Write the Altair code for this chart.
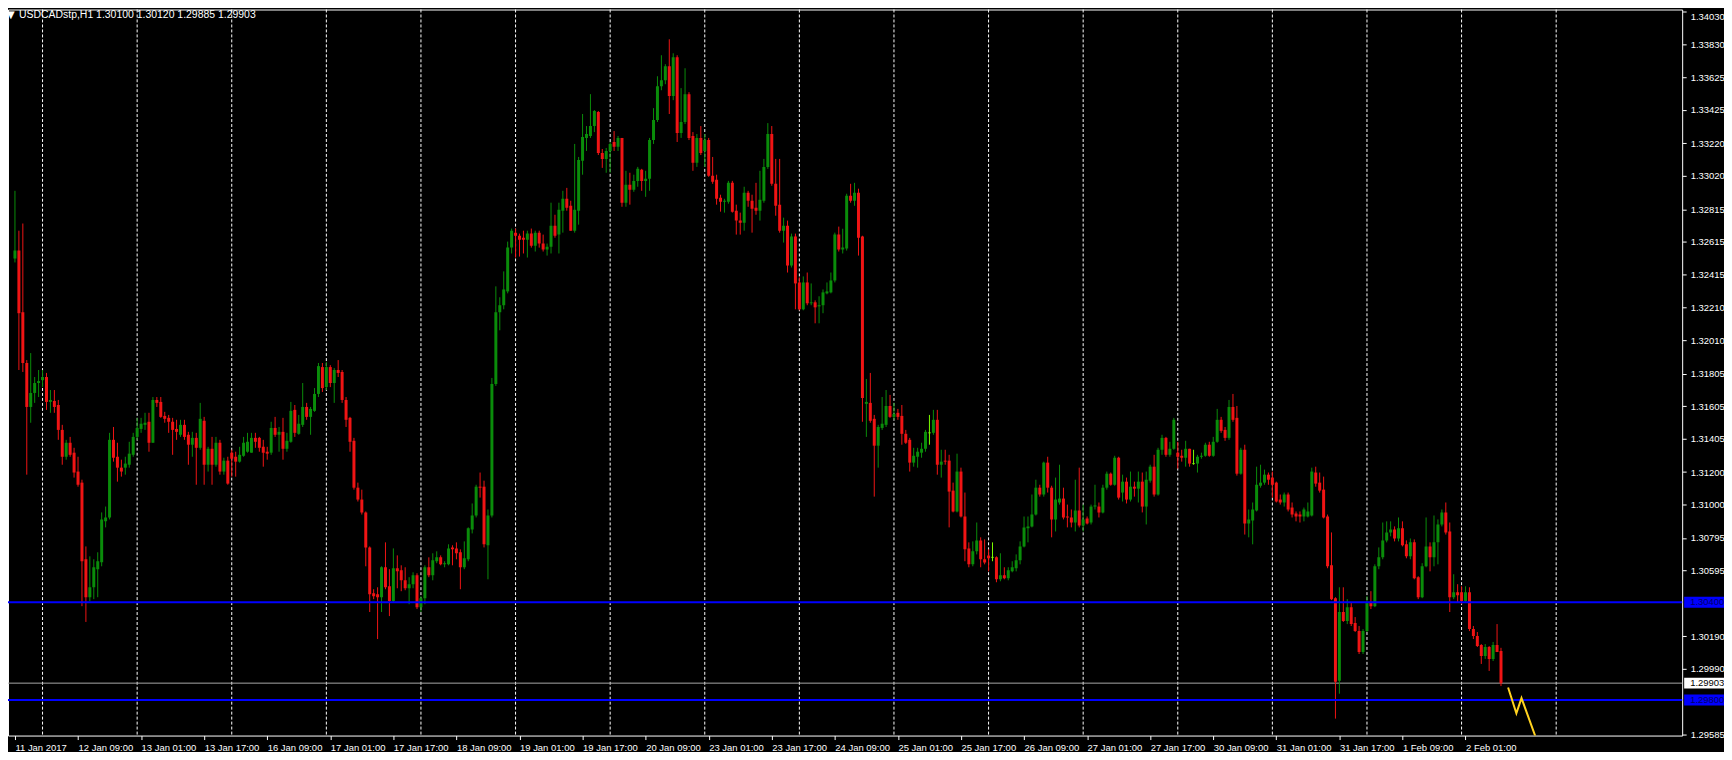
import altair as alt
import pandas as pd

# USDCAD H1 candles, prices in points (1 point = 0.00001)
open_pts = [
    132512, 132561, 132182, 131870, 131600, 131686, 131747, 131765, 131784, 131631,
    131637, 131612, 131459, 131294, 131380, 131319, 131203, 131135, 130664, 130431,
    130492, 130603, 130646, 130897, 130921, 131398, 131294, 131227, 131227, 131245,
    131306, 131416, 131465, 131490, 131509, 131380, 131643, 131631, 131545, 131533,
    131509, 131465, 131429, 131490, 131429, 131368, 131410, 131349, 131515, 131245,
    131343, 131245, 131380, 131203, 131270, 131319, 131294, 131264, 131300, 131325,
    131319, 131410, 131410, 131355, 131325, 131319, 131471, 131429, 131447, 131343,
    131386, 131582, 131435, 131490, 131600, 131539, 131576, 131680, 131845, 131722,
    131845, 131747, 131827, 131815, 131643, 131533, 131392, 131104, 131031, 130952,
    130737, 130456, 130449, 130431, 130615, 130498, 130407, 130609, 130597, 130535,
    130486, 130511, 130566, 130370, 130425, 130615, 130566, 130652, 130676, 130633,
    130633, 130737, 130731, 130707, 130615, 130664, 130847, 130933, 131110, 131110,
    130750, 130933, 131741, 132182, 132225, 132310, 132579, 132671, 132652, 132640,
    132628, 132665, 132591, 132671, 132604, 132567, 132585, 132714, 132659, 132806,
    132879, 132836, 132683, 132806, 133112, 133253, 133265, 133326, 133412, 133161,
    133124, 133173, 133228, 133198, 133253, 132855, 132965, 132934, 132989, 133057,
    132989, 133002, 133240, 133363, 133571, 133608, 133694, 133510, 133749, 133283,
    133351, 133522, 133265, 133100, 133253, 133173, 133240, 133020, 132996, 132885,
    132861, 132861, 132977, 132806, 132745, 132732, 132916, 132867, 132824, 132806,
    132867, 133075, 133277, 132971, 132843, 132683, 132714, 132469, 132647, 132365,
    132200, 132365, 132237, 132243, 132218, 132225, 132298, 132304, 132377, 132659,
    132567, 132573, 132898, 132867, 132916, 132647, 131619, 131625, 131527, 131362,
    131471, 131490, 131606, 131539, 131564, 131545, 131435, 131398, 131258, 131294,
    131319, 131343, 131441, 131441, 131521, 131245, 131270, 131270, 131086, 130958,
    131203, 130927, 130731, 130633, 130713, 130780, 130664, 130688, 130676, 130676,
    130541, 130566, 130547, 130590, 130609, 130658, 130743, 130854, 130866, 130939,
    131104, 131062, 131258, 131104, 130909, 131013, 131037, 130927, 130921, 130890,
    130964, 130872, 130915, 130890, 130988, 130988, 130952, 131104, 131190, 131122,
    131288, 131074, 131141, 131031, 131110, 131098, 131141, 130988, 131147, 131233,
    131062, 131337, 131410, 131306, 131343, 131319, 131300, 131288, 131343, 131252,
    131252, 131294, 131300, 131368, 131300, 131386, 131521, 131459, 131410, 131600,
    131533, 131190, 131337, 130884, 130903, 130964, 131116, 131135, 131184, 131166,
    131135, 131031, 131013, 131062, 130982, 130946, 130939, 130927, 130927, 130933,
    131197, 131135, 131092, 130927, 130627, 130425, 129917, 130340, 130285, 130370,
    130272, 130223, 130094, 130223, 130401, 130376, 130621, 130676, 130780, 130829,
    130847, 130792, 130854, 130756, 130682, 130768, 130554, 130431, 130621, 130743,
    130676, 130768, 130878, 130952, 130835, 130431, 130462, 130462, 130407, 130462,
    130235, 130193, 130137, 130070, 130125, 130052, 130137, 130100,
]
high_pts = [
    132928, 132683, 132727, 131888, 131931, 131784, 131827, 131827, 131809, 131704,
    131704, 131643, 131490, 131398, 131416, 131349, 131294, 131153, 130743, 130682,
    130664, 130707, 130952, 130988, 131441, 131477, 131380, 131276, 131294, 131386,
    131441, 131533, 131533, 131564, 131564, 131661, 131661, 131661, 131570, 131551,
    131533, 131521, 131521, 131521, 131447, 131447, 131441, 131625, 131539, 131355,
    131416, 131416, 131398, 131288, 131294, 131337, 131325, 131355, 131416, 131441,
    131441, 131441, 131416, 131398, 131355, 131509, 131539, 131477, 131533, 131441,
    131631, 131612, 131551, 131747, 131625, 131600, 131716, 131870, 131870, 131876,
    131857, 131839, 131888, 131827, 131661, 131539, 131410, 131135, 131092, 130958,
    130743, 130480, 130492, 130621, 130768, 130603, 130731, 130688, 130627, 130615,
    130554, 130584, 130578, 130437, 130627, 130676, 130701, 130713, 130688, 130652,
    130756, 130750, 130768, 130725, 130774, 130860, 131007, 131122, 131197, 131147,
    130970, 131778, 132341, 132274, 132433, 132616, 132696, 132696, 132665, 132683,
    132683, 132696, 132683, 132683, 132659, 132604, 132855, 132781, 132855, 132928,
    132946, 132867, 133216, 133136, 133400, 133326, 133522, 133424, 133418, 133185,
    133191, 133228, 133295, 133265, 133253, 133051, 133039, 133027, 133075, 133063,
    133051, 133253, 133436, 133632, 133761, 133706, 133859, 133773, 133761, 133559,
    133681, 133534, 133289, 133277, 133326, 133277, 133253, 133136, 133027, 132904,
    132879, 132989, 132989, 132843, 132794, 132953, 132928, 132904, 132977, 133051,
    133124, 133344, 133326, 133124, 133124, 132763, 132745, 132665, 132665, 132396,
    132402, 132426, 132359, 132255, 132280, 132322, 132365, 132426, 132671, 132708,
    132695, 132910, 132971, 132977, 132941, 132652, 131772, 131809, 131551, 131490,
    131661, 131704, 131674, 131625, 131588, 131612, 131459, 131410, 131349, 131349,
    131380, 131459, 131551, 131582, 131582, 131337, 131337, 131306, 131135, 131313,
    131227, 131074, 130768, 130774, 130890, 130799, 130786, 130725, 130768, 130682,
    130701, 130615, 130615, 130652, 130694, 130774, 130927, 130927, 131062, 131153,
    131122, 131264, 131294, 131116, 131166, 131245, 131104, 131000, 130970, 131153,
    131227, 131000, 130927, 131000, 131122, 131013, 131122, 131203, 131197, 131300,
    131294, 131184, 131166, 131203, 131141, 131203, 131197, 131203, 131245, 131306,
    131349, 131429, 131416, 131386, 131533, 131386, 131337, 131392, 131343, 131337,
    131306, 131319, 131380, 131386, 131416, 131588, 131539, 131477, 131643, 131680,
    131606, 131349, 131368, 130970, 131013, 131233, 131245, 131215, 131197, 131203,
    131141, 131062, 131074, 131074, 131013, 130958, 130958, 130982, 131013, 131227,
    131233, 131197, 131172, 130939, 130829, 130431, 130492, 130492, 130419, 130401,
    130309, 130254, 130235, 130437, 130468, 130633, 130737, 130890, 130897, 130897,
    130866, 130921, 130897, 130780, 130792, 130786, 130560, 130640, 130921, 130768,
    130933, 130909, 130970, 131013, 130890, 130572, 130511, 130498, 130498, 130492,
    130254, 130217, 130143, 130143, 130131, 130156, 130266, 130120,
]
low_pts = [
    132488, 131827, 131815, 131184, 131503, 131625, 131661, 131722, 131582, 131564,
    131564, 131398, 131245, 131276, 131294, 131166, 131110, 130376, 130279, 130407,
    130419, 130431, 130621, 130860, 130909, 131264, 131141, 131172, 131184, 131227,
    131294, 131398, 131441, 131459, 131325, 131380, 131600, 131533, 131503, 131441,
    131306, 131398, 131416, 131398, 131245, 131294, 131122, 131337, 131122, 131203,
    131122, 131233, 131184, 131184, 131122, 131172, 131172, 131258, 131294, 131319,
    131319, 131349, 131325, 131233, 131276, 131306, 131416, 131325, 131276, 131325,
    131380, 131416, 131429, 131477, 131521, 131429, 131570, 131661, 131692, 131704,
    131722, 131625, 131784, 131625, 131477, 131325, 131092, 131019, 130939, 130621,
    130340, 130419, 130174, 130340, 130480, 130315, 130401, 130486, 130468, 130474,
    130388, 130486, 130358, 130340, 130388, 130554, 130535, 130640, 130627, 130615,
    130627, 130627, 130664, 130480, 130603, 130652, 130823, 130921, 131043, 130737,
    130541, 130921, 131729, 132071, 132200, 132298, 132543, 132518, 132524, 132543,
    132518, 132579, 132555, 132579, 132555, 132530, 132543, 132640, 132543, 132671,
    132806, 132695, 132671, 132720, 133027, 133173, 133253, 133289, 133148, 133069,
    133039, 133039, 133173, 133173, 132830, 132830, 132843, 132922, 132953, 132928,
    132891, 132928, 133216, 133351, 133546, 133583, 133400, 133485, 133228, 133253,
    133338, 133240, 133051, 133075, 133148, 133075, 133014, 132971, 132843, 132800,
    132794, 132849, 132794, 132659, 132659, 132683, 132830, 132671, 132781, 132745,
    132855, 133063, 132959, 132775, 132671, 132610, 132426, 132457, 132200, 132194,
    132194, 132225, 132225, 132114, 132114, 132176, 132292, 132298, 132365, 132555,
    132543, 132561, 132855, 132836, 132530, 131509, 131416, 131503, 131049, 131227,
    131459, 131477, 131533, 131521, 131521, 131368, 131373, 131203, 131233, 131227,
    131288, 131325, 131368, 131429, 131184, 131166, 131245, 130860, 130952, 130952,
    130921, 130652, 130615, 130621, 130694, 130615, 130633, 130590, 130652, 130523,
    130529, 130541, 130535, 130584, 130590, 130633, 130737, 130768, 130860, 130933,
    131049, 131049, 131074, 130799, 130835, 131000, 130909, 130860, 130860, 130835,
    130860, 130835, 130878, 130878, 130970, 130921, 130946, 131092, 131116, 131116,
    131031, 131019, 131007, 131019, 131049, 131013, 130952, 130878, 131135, 131049,
    131055, 131306, 131294, 131294, 131337, 131221, 131264, 131233, 131233, 131245,
    131197, 131282, 131294, 131294, 131294, 131380, 131441, 131392, 131398, 131509,
    131178, 131184, 130816, 130799, 130756, 130958, 131104, 131122, 131122, 131043,
    131013, 131000, 130988, 130958, 130921, 130897, 130890, 130897, 130921, 130927,
    131110, 131074, 130915, 130609, 130413, 129685, 129838, 130279, 130266, 130254,
    130217, 130082, 130082, 130217, 130358, 130370, 130603, 130664, 130768, 130805,
    130774, 130774, 130743, 130670, 130664, 130541, 130419, 130425, 130615, 130590,
    130621, 130633, 130866, 130816, 130340, 130419, 130401, 130388, 130401, 130223,
    130174, 130125, 130021, 130052, 129978, 130039, 130094, 129885,
]
close_pts = [
    132561, 132176, 131870, 131600, 131686, 131747, 131759, 131784, 131631, 131643,
    131600, 131459, 131294, 131380, 131306, 131197, 131122, 130652, 130431, 130492,
    130615, 130652, 130909, 130921, 131398, 131288, 131227, 131203, 131252, 131313,
    131416, 131471, 131497, 131503, 131380, 131643, 131625, 131539, 131527, 131509,
    131459, 131447, 131490, 131416, 131368, 131410, 131349, 131527, 131245, 131343,
    131245, 131380, 131203, 131270, 131129, 131282, 131264, 131306, 131380, 131386,
    131410, 131386, 131349, 131319, 131313, 131471, 131429, 131447, 131343, 131392,
    131576, 131441, 131497, 131600, 131539, 131588, 131680, 131851, 131716, 131845,
    131747, 131827, 131809, 131643, 131521, 131386, 131104, 131031, 130952, 130737,
    130449, 130437, 130431, 130615, 130492, 130407, 130609, 130590, 130535, 130486,
    130511, 130566, 130370, 130425, 130615, 130566, 130658, 130676, 130633, 130640,
    130731, 130725, 130701, 130615, 130670, 130854, 130933, 131110, 131104, 130756,
    130933, 131741, 132182, 132225, 132322, 132579, 132683, 132652, 132628, 132628,
    132665, 132591, 132671, 132604, 132567, 132585, 132714, 132652, 132812, 132879,
    132824, 132683, 132812, 133118, 133259, 133277, 133326, 133418, 133161, 133124,
    133173, 133216, 133198, 133253, 132855, 132965, 132934, 132989, 133063, 132989,
    133002, 133240, 133363, 133571, 133608, 133694, 133510, 133749, 133283, 133351,
    133522, 133253, 133100, 133253, 133161, 133240, 133020, 132983, 132879, 132861,
    132867, 132977, 132800, 132745, 132732, 132916, 132867, 132818, 132806, 132873,
    133075, 133277, 132971, 132836, 132683, 132714, 132469, 132647, 132359, 132200,
    132365, 132237, 132243, 132212, 132225, 132304, 132310, 132377, 132659, 132567,
    132579, 132898, 132867, 132916, 132640, 131655, 131631, 131515, 131362, 131477,
    131497, 131606, 131539, 131557, 131539, 131435, 131380, 131258, 131300, 131325,
    131343, 131447, 131441, 131521, 131245, 131264, 131264, 131080, 130958, 131203,
    130927, 130725, 130633, 130713, 130780, 130664, 130645, 130670, 130676, 130541,
    130566, 130547, 130597, 130615, 130658, 130743, 130860, 130866, 130939, 131104,
    131062, 131258, 131104, 130909, 131031, 131037, 130921, 130921, 130890, 130964,
    130872, 130909, 130884, 130988, 130995, 130952, 131104, 131190, 131122, 131288,
    131043, 131141, 131031, 131110, 131098, 131141, 130988, 131153, 131233, 131062,
    131337, 131410, 131306, 131343, 131521, 131294, 131288, 131343, 131252, 131252,
    131294, 131300, 131368, 131300, 131386, 131521, 131453, 131410, 131600, 131521,
    131190, 131337, 130884, 130909, 130970, 131122, 131135, 131184, 131153, 131122,
    131019, 131013, 131062, 130970, 130939, 130927, 130927, 130970, 130958, 131203,
    131129, 131086, 130921, 130621, 130419, 129911, 130340, 130285, 130370, 130266,
    130223, 130094, 130223, 130401, 130376, 130621, 130676, 130780, 130829, 130847,
    130792, 130854, 130750, 130682, 130768, 130547, 130431, 130621, 130743, 130676,
    130768, 130878, 130952, 130829, 130431, 130462, 130443, 130407, 130462, 130235,
    130193, 130131, 130070, 130125, 130052, 130137, 130094, 129903,
]

x_tick_labels = [
    "11 Jan 2017", "12 Jan 09:00", "13 Jan 01:00", "13 Jan 17:00", "16 Jan 09:00",
    "17 Jan 01:00", "17 Jan 17:00", "18 Jan 09:00", "19 Jan 01:00", "19 Jan 17:00",
    "20 Jan 09:00", "23 Jan 01:00", "23 Jan 17:00", "24 Jan 09:00", "25 Jan 01:00",
    "25 Jan 17:00", "26 Jan 09:00", "27 Jan 01:00", "27 Jan 17:00", "30 Jan 09:00",
    "31 Jan 01:00", "31 Jan 17:00", "1 Feb 09:00", "2 Feb 01:00",
]
x_tick_bars = [0, 16, 32, 48, 64, 80, 96, 112, 128, 144, 160, 176, 192, 208, 224,
               240, 256, 272, 288, 304, 320, 336, 352, 368]
y_tick_values = [1.34030, 1.33830, 1.33625, 1.33425, 1.33220, 1.33020, 1.32815,
                 1.32615, 1.32415, 1.32210, 1.32010, 1.31805, 1.31605, 1.31405,
                 1.31200, 1.31000, 1.30795, 1.30595, 1.30190, 1.29990, 1.29585]
grid_bars = [7, 31, 55, 79, 103, 127, 151, 175, 199, 223, 247, 271, 295, 319, 343, 367, 391]
level_prices = [1.30400, 1.29800]
level_labels = ["1.30400", "1.29800"]
bid_price = [1.29903]
bid_label = ["1.29903"]
forecast_bar = [378.8, 380.9, 382.2, 385.9, 388.0]
forecast_price = [1.29876, 1.29717, 1.29811, 1.29564, 1.29424]
title_text = "USDCADstp,H1  1.30100 1.30120 1.29885 1.29903"

n = len(close_pts)
df = pd.DataFrame({
    "bar": list(range(n)),
    "open": [v / 1e5 for v in open_pts],
    "high": [v / 1e5 for v in high_pts],
    "low": [v / 1e5 for v in low_pts],
    "close": [v / 1e5 for v in close_pts],
})
df["high"] = df[["high", "open", "close"]].max(axis=1)
df["low"] = df[["low", "open", "close"]].min(axis=1)
df["dir"] = ["up" if c > o else ("down" if c < o else "doji")
             for o, c in zip(df["open"], df["close"])]

W, H = 1681, 729
FONT = "Liberation Sans"
xscale = alt.Scale(domain=[-0.5, 421.7], nice=False, zero=False)
yscale = alt.Scale(domain=[1.29581, 1.34042], nice=False, zero=False)

label_js = "[" + ",".join("'" + s + "'" for s in x_tick_labels) + "]"
xaxis = alt.Axis(values=x_tick_bars, labelExpr=label_js + "[indexof(" +
                 str(x_tick_bars) + ", datum.value)]",
                 orient="bottom", grid=False, domain=False, tickSize=4, tickColor="white",
                 labelColor="white", labelFont=FONT, labelFontSize=9.5, labelAlign="left",
                 labelBaseline="top", labelPadding=3, labelFlush=False, labelOverlap=False,
                 labelBound=False, title=None)
yaxis = alt.Axis(values=y_tick_values, format=".5f", orient="right", grid=False,
                 domain=False, tickSize=4, tickColor="white", labelColor="white",
                 labelFont=FONT, labelFontSize=9.5, labelPadding=4, labelOverlap=False,
                 labelFlush=False, labelBound=False, title=None,
                 labelBaseline={"condition": {"test": "datum.value > 1.3400", "value": "top"},
                                "value": "middle"})

X = lambda f: alt.X(f, scale=xscale, axis=xaxis)
Y = lambda f: alt.Y(f, scale=yscale, axis=yaxis)

color_enc = alt.Color("dir:N", scale=alt.Scale(domain=["up", "down", "doji"],
                                               range=["#0A8C0A", "#F01414", "#7CFC00"]),
                      legend=None)

grid = alt.Chart(pd.DataFrame({"bar": grid_bars})).mark_rule(
    color="white", strokeDash=[3, 2], strokeWidth=1).encode(x=X("bar:Q"))

bid = alt.Chart(pd.DataFrame({"price": bid_price})).mark_rule(
    color="#A8A8A8", strokeWidth=1).encode(y=Y("price:Q"))

base = alt.Chart(df)
wicks = base.mark_rule(strokeWidth=1, clip=True).encode(
    x=X("bar:Q"), y=Y("low:Q"), y2="high:Q", color=color_enc)
bodies = base.mark_bar(size=3, clip=True).encode(
    x=X("bar:Q"), y=Y("open:Q"), y2="close:Q", color=color_enc)
dojis = base.transform_filter("datum.open == datum.close").mark_tick(
    orient="horizontal", size=3, thickness=1).encode(
    x=X("bar:Q"), y=Y("close:Q"), color=color_enc)

levels_df = pd.DataFrame({"price": level_prices, "label": level_labels})
levels = alt.Chart(levels_df).mark_rule(color="#0000FF", strokeWidth=2).encode(
    y=Y("price:Q"))

forecast = alt.Chart(pd.DataFrame({"bar": forecast_bar, "price": forecast_price})).mark_line(
    color="#FFD21F", strokeWidth=2, clip=True).encode(
    x=X("bar:Q"), y=Y("price:Q"), order="bar:Q")

level_box = alt.Chart(levels_df).mark_rule(color="#0000FF", strokeWidth=11, strokeCap="butt").encode(
    x=alt.value(W + 2), x2=alt.value(W + 45), y=Y("price:Q"))
level_txt = alt.Chart(levels_df).mark_text(
    align="left", baseline="middle", font=FONT, fontSize=9.5, color="#000066").encode(
    x=alt.value(W + 8), y=Y("price:Q"), text="label:N")

bid_df = pd.DataFrame({"price": bid_price, "label": bid_label})
bid_box = alt.Chart(bid_df).mark_rule(color="white", strokeWidth=11, strokeCap="butt").encode(
    x=alt.value(W + 2), x2=alt.value(W + 45), y=Y("price:Q"))
bid_txt = alt.Chart(bid_df).mark_text(
    align="left", baseline="middle", font=FONT, fontSize=9.5, color="black").encode(
    x=alt.value(W + 8), y=Y("price:Q"), text="label:N")

title_df = pd.DataFrame({"t": [title_text], "tri": ["\u25BC"]})
title_tri = alt.Chart(title_df).mark_text(
    align="left", baseline="middle", font="DejaVu Sans", fontSize=10, color="white").encode(
    x=alt.value(-1), y=alt.value(6), text="tri:N")
title_txt = alt.Chart(title_df).mark_text(
    align="left", baseline="middle", font=FONT, fontSize=10.5, color="white").encode(
    x=alt.value(11), y=alt.value(6), text="t:N")

chart = alt.layer(
    grid, bid, wicks, bodies, dojis, levels, forecast,
    level_box, level_txt, bid_box, bid_txt, title_tri, title_txt
).properties(
    width=W, height=H,
    autosize=alt.AutoSizeParams(type="none"),
    padding={"left": 0, "top": 0, "right": 42, "bottom": 15},
    background="black",
).configure_view(stroke="white", strokeWidth=1)

chart.save("out.html", embed_options={"renderer": "svg", "actions": False})
